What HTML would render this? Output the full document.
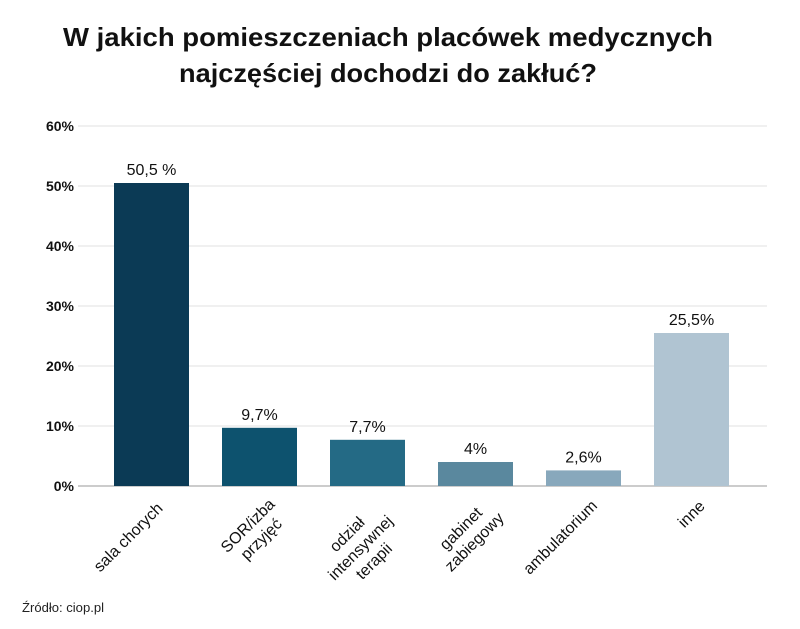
<!DOCTYPE html>
<html><head><meta charset="utf-8"><style>
body{margin:0;background:#fff;}
svg{display:block;font-family:"Liberation Sans",sans-serif;}
</style></head><body>
<svg id="chart" width="800" height="629" viewBox="0 0 800 629">
<text x="388" y="46" text-anchor="middle" font-size="26" font-weight="bold" fill="#111" textLength="650" lengthAdjust="spacingAndGlyphs">W jakich pomieszczeniach placówek medycznych</text>
<text x="388" y="82" text-anchor="middle" font-size="26" font-weight="bold" fill="#111" textLength="418" lengthAdjust="spacingAndGlyphs">najczęściej dochodzi do zakłuć?</text>
<g id="grid"></g><g id="bars"></g><g id="xlabels"></g>
<text x="22" y="612" font-size="13" fill="#222" textLength="82" lengthAdjust="spacingAndGlyphs">Źródło: ciop.pl</text>
</svg>
<script>
const categories=[["sala chorych"],["SOR/izba","przyjęć"],["odział","intensywnej","terapii"],["gabinet","zabiegowy"],["ambulatorium"],["inne"]];
const values=[50.5,9.7,7.7,4,2.6,25.5];
const valueLabels=["50,5 %","9,7%","7,7%","4%","2,6%","25,5%"];
const colors=["#0b3a55","#0d526e","#246a85","#5a889e","#88a8bc","#b0c4d2"];
const ticks=[0,10,20,30,40,50,60];
const NS="http://www.w3.org/2000/svg";
const y0=486,pxPer=6,x0=100,step=108,barW=75;
const y=v=>y0-v*pxPer;
const xc=i=>x0+14+step*i+barW/2;
function mk(t,a,p){const e=document.createElementNS(NS,t);for(const k in a)e.setAttribute(k,a[k]);p.appendChild(e);return e;}
const g=document.getElementById('grid');
ticks.forEach(t=>{
 const l=mk('line',{x1:78,x2:767,y1:y(t),y2:y(t),stroke:t===0?'#ccc':'#e0e0e0','stroke-width':t===0?2:1},g);
 
 
 const tx=mk('text',{x:74,y:y(t)+5,'text-anchor':'end','font-size':14,'font-weight':'bold',fill:'#111'},g);
 tx.textContent=t+'%';
 
 
});
const b=document.getElementById('bars');
values.forEach((v,i)=>{
 const r=mk('rect',{x:xc(i)-barW/2,y:y(v),width:barW,height:v*pxPer,fill:colors[i]},b);
 
 
 const t=mk('text',{x:xc(i),y:y(v)-8,'text-anchor':'middle','font-size':16,fill:'#111'},b);
 t.textContent=valueLabels[i];
 
 
});
const xl=document.getElementById('xlabels');
categories.forEach((lines,i)=>{
 const maxW=Math.max(...lines.map(s=>s.length))*8.2;
 const gg=mk('g',{transform:`translate(${xc(i)+6},497) rotate(-45)`},xl);
 
 
 lines.forEach((s,j)=>{
  const t=mk('text',{x:-maxW/2,y:13+j*19,'text-anchor':'middle','font-size':16,fill:'#111'},gg);
  t.textContent=s;
 });
});
</script>
</body></html>
